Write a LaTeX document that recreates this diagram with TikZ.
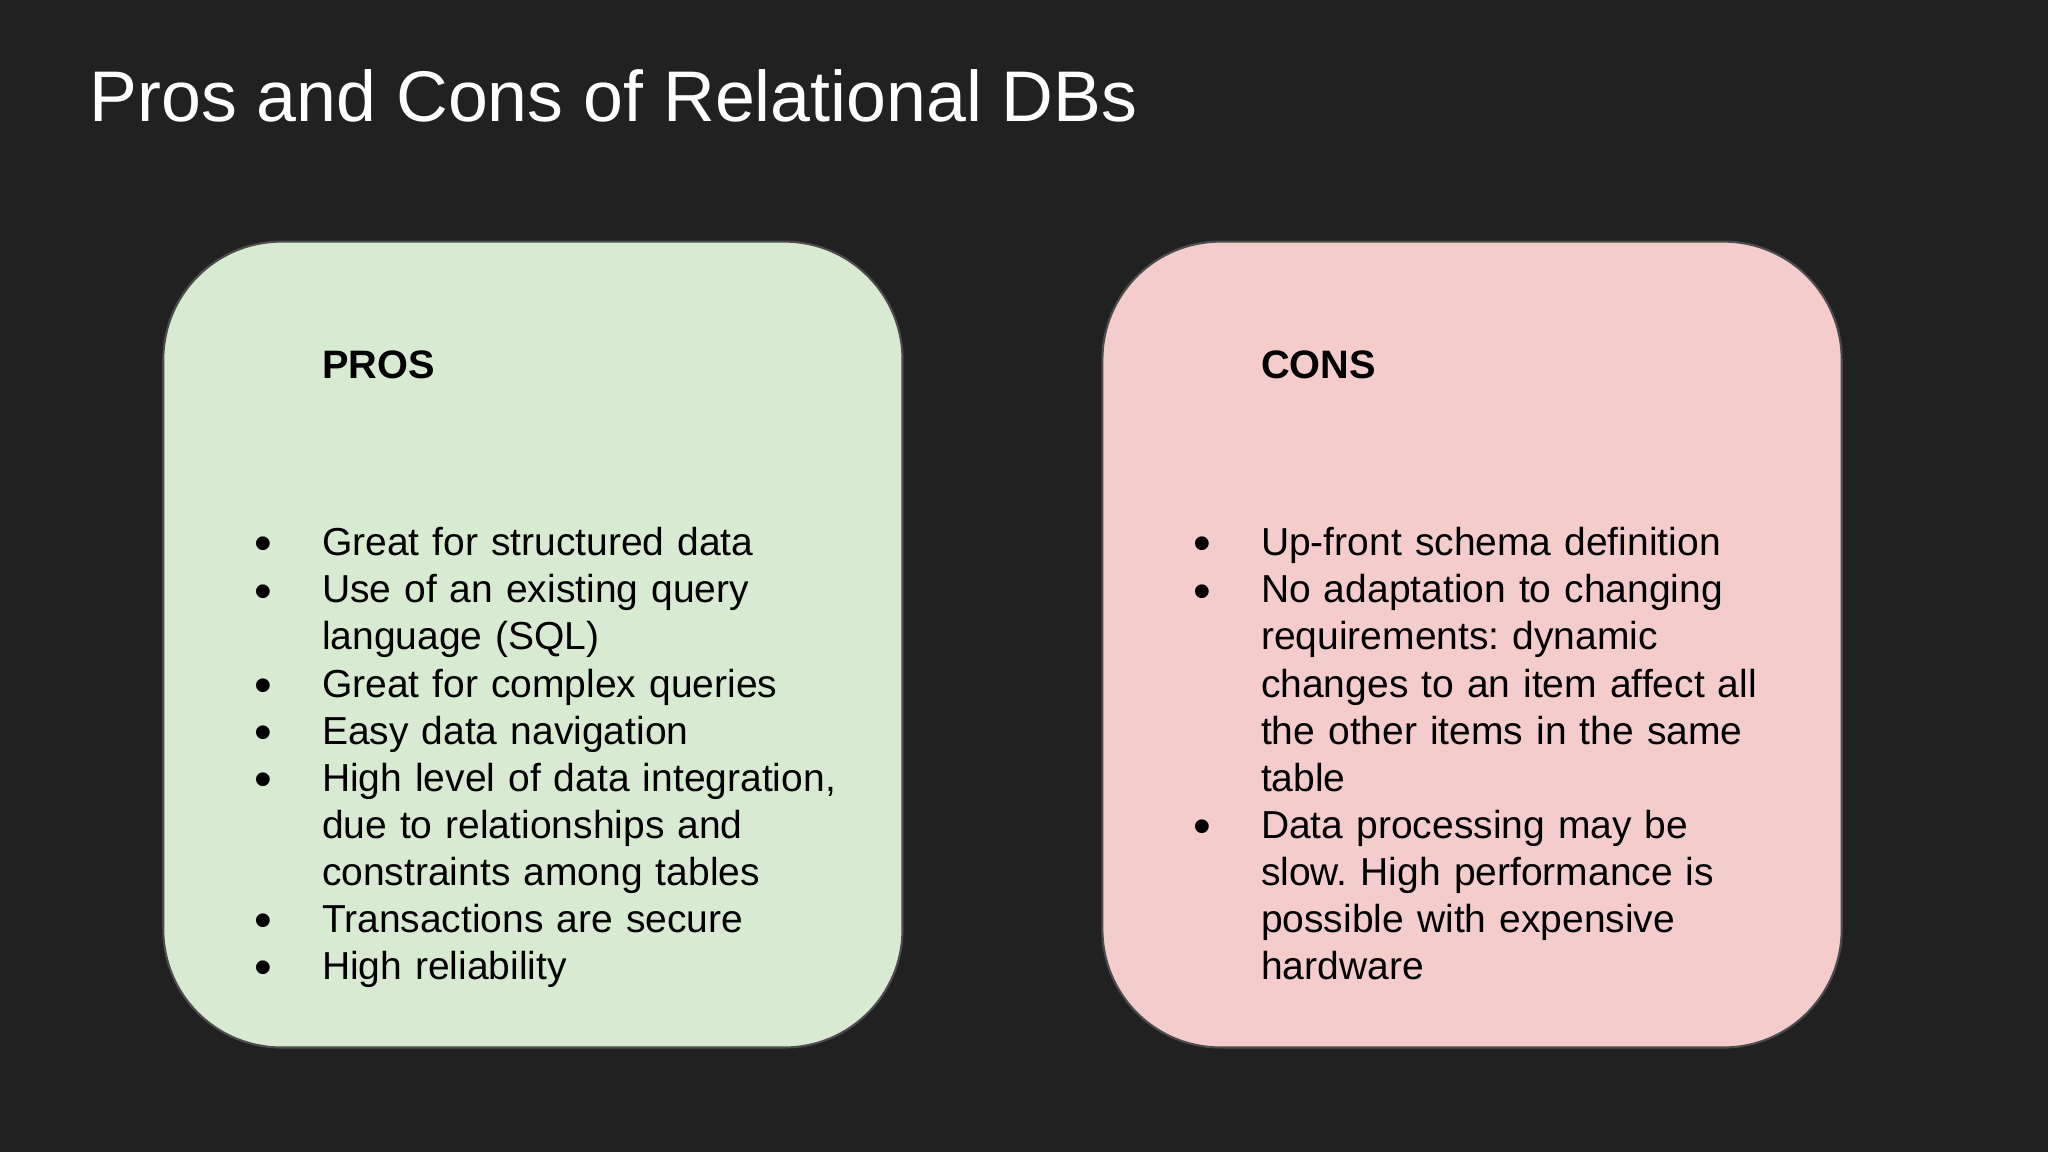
\documentclass[tikz,border=0pt]{standalone}
\usepackage{fontspec}
\setmainfont{Liberation Sans}
\usepackage{enumitem}
\frenchspacing
\definecolor{slidebg}{HTML}{212121}
\definecolor{prosfill}{HTML}{D9EAD3}
\definecolor{consfill}{HTML}{F4CCCC}
\tikzset{
  card/.style={draw=black!70, line width=0.6pt, rounded corners=1.18cm},
  head/.style={anchor=base west, inner sep=0pt, font=\fontsize{11.3}{13.4}\selectfont\bfseries},
  list/.style={anchor=north west, inner sep=0pt, text width=8cm, font=\fontsize{11.1}{13.4}\selectfont}
}
\newcommand{\cardlist}[1]{\begin{itemize}[leftmargin=0.64cm,labelsep=0.5cm,itemsep=0pt,parsep=0pt,topsep=0pt,partopsep=0pt,label={\smash{\raisebox{-0.25ex}{\Large\textbullet}}}]#1\end{itemize}}
\begin{document}
\begin{tikzpicture}
\fill[slidebg] (0,0) rectangle (20.48,11.52);
\useasboundingbox (0,0) rectangle (20.48,11.52);
\node (title) at (0.888,10.305) [anchor=base west, inner sep=0pt, text=white, font=\fontsize{20.4}{24}\selectfont] {Pros and Cons of Relational DBs};
% pros card
\draw[card, fill=prosfill] (1.633,1.045) rectangle (9.025,9.104);
\node (pros) at (3.213,7.732) [head] {PROS};
\node (proslist) at (2.573,6.44) [list] {\cardlist{
  \item Great for structured data
  \item Use of an existing query\\ language (SQL)
  \item Great for complex queries
  \item Easy data navigation
  \item High level of data integration,\\ due to relationships and\\ constraints among tables
  \item Transactions are secure
  \item High reliability}};
% cons card
\draw[card, fill=consfill] (11.024,1.045) rectangle (18.417,9.104);
\node (cons) at (12.604,7.732) [head] {CONS};
\node (conslist) at (11.964,6.44) [list] {\cardlist{
  \item Up-front schema definition
  \item No adaptation to changing\\ requirements: dynamic\\ changes to an item affect all\\ the other items in the same\\ table
  \item Data processing may be\\ slow. High performance is\\ possible with expensive\\ hardware}};
\end{tikzpicture}
\end{document}
